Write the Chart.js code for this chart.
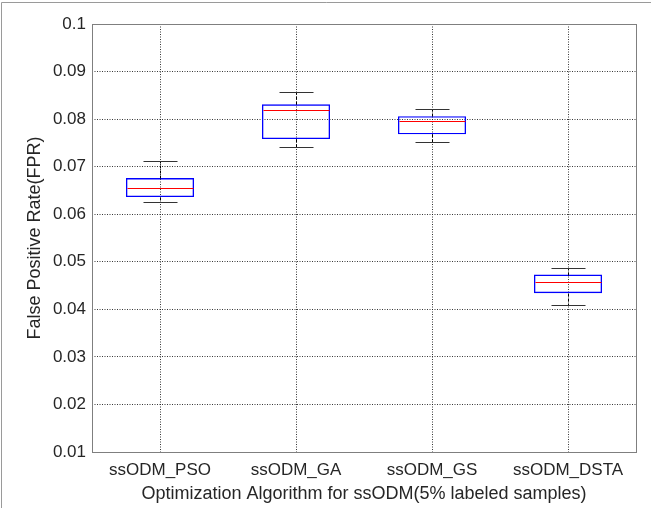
<!DOCTYPE html>
<html>
<head>
<meta charset="utf-8">
<script src="https://cdn.jsdelivr.net/npm/chart.js@4/dist/chart.umd.min.js"></script>
<style>
  html, body { margin: 0; padding: 0; background: #fff; }
  canvas { display: block; }
</style>
</head>
<body>
<canvas id="fprChart" width="651" height="508"></canvas>
<script>
// FPR spread per optimiser (5% labeled samples)
const algorithms = ["ssODM_PSO", "ssODM_GA", "ssODM_GS", "ssODM_DSTA"];
const lowerWhisker = [0.0626, 0.0741, 0.0752, 0.0409];
const quartile1 = [0.0636, 0.0758, 0.0768, 0.0434];
const medians = [0.0656, 0.0819, 0.0797, 0.0457];
const quartile3 = [0.0676, 0.0831, 0.0806, 0.0473];
const upperWhisker = [0.0712, 0.0856, 0.0821, 0.0486];
const yTicks = [0.01, 0.02, 0.03, 0.04, 0.05, 0.06, 0.07, 0.08, 0.09, 0.1];

const textColor = "#262626";
const frameColor = "#7f7f7f";
const gridColor = "rgba(20, 20, 20, 0.85)";
const font = "'Liberation Sans', Arial, sans-serif";

// medians, whiskers and caps drawn on top of the bar boxes
const boxPlotExtras = {
    id: "boxPlotExtras",
    afterDatasetsDraw(chart) {
        const { ctx, scales: { x, y } } = chart;
        const bars = chart.getDatasetMeta(0).data;
        const crisp = v => Math.round(v) + 0.5;

        ctx.save();
        ctx.lineWidth = 1;
        algorithms.forEach((name, i) => {
            const cx = crisp(x.getPixelForValue(i));
            const half = bars[i].width / 2;
            const capHalf = half / 2;
            const yMin = crisp(y.getPixelForValue(lowerWhisker[i]));
            const yMax = crisp(y.getPixelForValue(upperWhisker[i]));
            const yQ1 = crisp(y.getPixelForValue(quartile1[i]));
            const yQ3 = crisp(y.getPixelForValue(quartile3[i]));
            const yMed = crisp(y.getPixelForValue(medians[i]));

            // dashed whisker stems
            ctx.strokeStyle = "#000";
            ctx.setLineDash([3, 2]);
            ctx.beginPath();
            ctx.moveTo(cx, yQ3); ctx.lineTo(cx, yMax);
            ctx.moveTo(cx, yQ1); ctx.lineTo(cx, yMin);
            ctx.stroke();

            // caps
            ctx.setLineDash([]);
            ctx.strokeStyle = "#333";
            ctx.beginPath();
            ctx.moveTo(cx - capHalf, yMax); ctx.lineTo(cx + capHalf, yMax);
            ctx.moveTo(cx - capHalf, yMin); ctx.lineTo(cx + capHalf, yMin);
            ctx.stroke();

            // median
            ctx.strokeStyle = "#ff0000";
            ctx.beginPath();
            ctx.moveTo(cx - half + 1, yMed); ctx.lineTo(cx + half - 1, yMed);
            ctx.stroke();
        });
        ctx.restore();
    },
    afterDraw(chart) {
        const { ctx, chartArea: a } = chart;
        ctx.save();
        ctx.lineWidth = 1;
        // axes box
        ctx.strokeStyle = frameColor;
        ctx.strokeRect(Math.round(a.left) + 0.5, Math.round(a.top) + 0.5,
            Math.round(a.right - a.left), Math.round(a.bottom - a.top));
        // figure edge
        ctx.strokeStyle = "#9a9a9a";
        ctx.beginPath();
        ctx.moveTo(1.5, chart.height); ctx.lineTo(1.5, 2.5); ctx.lineTo(chart.width, 2.5);
        ctx.stroke();
        ctx.restore();
    }
};

const ctx = document.getElementById("fprChart").getContext("2d");

new Chart(ctx, {
    type: "bar",
    data: {
        labels: algorithms,
        datasets: [{
            label: "FPR",
            data: algorithms.map((_, i) => [quartile1[i], quartile3[i]]),
            backgroundColor: "rgba(0, 0, 0, 0)",
            borderColor: "#0000ff",
            borderWidth: 1.3,
            borderSkipped: false,
            barPercentage: 0.5,
            categoryPercentage: 1
        }]
    },
    options: {
        responsive: false,
        animation: false,
        layout: { padding: { left: 0, top: 24, right: 15, bottom: 0 } },
        plugins: {
            legend: { display: false },
            tooltip: { enabled: false }
        },
        scales: {
            x: {
                offset: true,
                afterFit(scale) { scale.height = 56; },
                grid: {
                    offset: false,
                    color: gridColor,
                    lineWidth: 1,
                    drawTicks: false
                },
                border: { display: false, dash: [1, 1.5] },
                ticks: {
                    color: textColor,
                    padding: 8,
                    font: { family: font, size: 17 }
                },
                title: {
                    display: true,
                    text: "Optimization Algorithm for ssODM(5% labeled samples)",
                    color: textColor,
                    font: { family: font, size: 18, lineHeight: 1 },
                    padding: { top: 0, bottom: 5 }
                }
            },
            y: {
                min: 0.01,
                max: 0.1,
                afterFit(scale) { scale.width = 92; },
                afterBuildTicks(scale) {
                    scale.ticks = yTicks.map(v => ({ value: v }));
                },
                grid: {
                    color: gridColor,
                    lineWidth: 1,
                    drawTicks: false
                },
                border: { display: false, dash: [1, 1.5] },
                ticks: {
                    color: textColor,
                    padding: 6,
                    font: { family: font, size: 17 },
                    callback: v => String(+v.toFixed(2))
                },
                title: {
                    display: true,
                    text: "False Positive Rate(FPR)",
                    color: textColor,
                    font: { family: font, size: 18, lineHeight: 1 },
                    padding: { top: 26, bottom: 0 }
                }
            }
        }
    },
    plugins: [boxPlotExtras]
});
</script>
</body>
</html>
